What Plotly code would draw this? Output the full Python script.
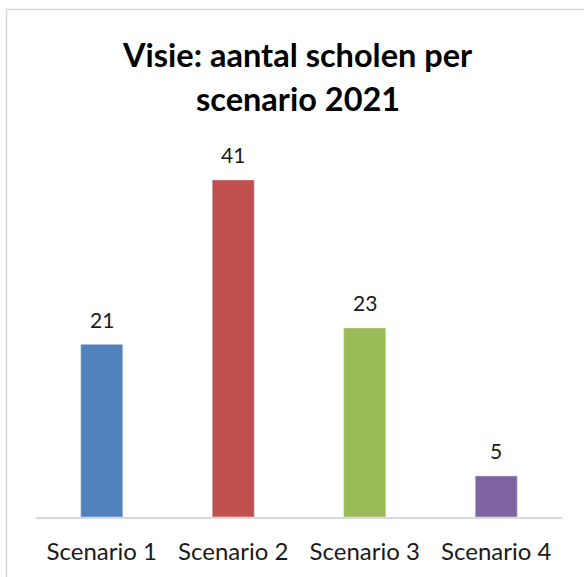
import plotly.graph_objects as go

categories = ["Scenario 1", "Scenario 2", "Scenario 3", "Scenario 4"]
values = [21, 41, 23, 5]
bar_colors = ["#4f81bd", "#c0504d", "#9bbb59", "#8064a2"]
title_lines = ["Visie: aantal scholen per", "scenario 2021"]

W, H = 584, 577
ml, mr, mt, mb = 36, 22, 147, 60
pw, ph = W - ml - mr, H - mt - mb

fig = go.Figure(go.Bar(
    x=categories,
    y=values,
    marker_color=bar_colors,
    width=0.32,
    hoverinfo="x+y",
))

# value labels sit a bit higher above the bars than plotly's "outside" text
for cat, val in zip(categories, values):
    fig.add_annotation(
        x=cat, y=val, text=str(val), showarrow=False,
        yanchor="middle", yshift=25,
        font=dict(size=21, color="#1a1a1a"),
    )

# two-line bold title, placed line by line for the wider line spacing
for line, py in zip(title_lines, [55, 98]):
    fig.add_annotation(
        xref="paper", yref="paper",
        x=(297.5 - ml) / pw, y=1 + (mt - py) / ph,
        text=f"<b>{line}</b>", showarrow=False,
        xanchor="center", yanchor="middle",
        font=dict(size=32.5, color="#000000"),
    )

# light grey chart frame (left and top edges visible in the reference)
fig.add_shape(
    type="rect", xref="paper", yref="paper",
    x0=(6.5 - ml) / pw, x1=(W + 10 - ml) / pw,
    y0=-(H + 10 - (H - mb)) / ph, y1=1 + (mt - 9.5) / ph,
    line=dict(color="#d9d9d9", width=1.5), fillcolor="rgba(0,0,0,0)",
    layer="below",
)

fig.update_layout(
    width=W, height=H,
    margin=dict(l=ml, r=mr, t=mt, b=mb),
    paper_bgcolor="white", plot_bgcolor="white",
    font=dict(family="Lato, Carlito, Calibri, sans-serif", color="#1a1a1a"),
    showlegend=False,
    bargap=0.68,
)
fig.update_xaxes(
    showline=True, linecolor="#d9d9d9", linewidth=1.5,
    ticks="", tickfont=dict(size=24, color="#1a1a1a"), ticklabelstandoff=12,
)
fig.update_yaxes(visible=False, range=[0, 45])

fig.write_html(
    "out.html",
    config={"displayModeBar": False},
    post_script="document.body.style.margin='0';",
)
